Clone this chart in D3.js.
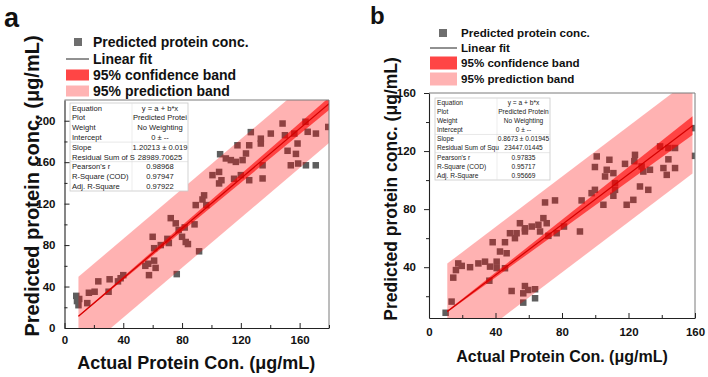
<!DOCTYPE html>
<html><head><meta charset="utf-8">
<script src="https://cdn.jsdelivr.net/npm/d3@7"></script>
<style>body{margin:0;background:#fff} text{font-family:"Liberation Sans",Arial,sans-serif}</style>
</head><body><svg id="c" width="708" height="377"></svg>
<script>
// ---------- Panel a data ----------
const actualA = [8,8.5,9.5,10,15.5,16.6,20.5,23,30,30.7,36.4,38.2,40,55,57,57.5,61,62,61,60,65.5,70,71,76.4,77.7,80,82.5,84,91.6,72.3,75.7,81.8,88.5,89.3,93.9,95,96.5,100.7,105.2,106.8,105.2,105.9,109.8,113.2,116.6,121.2,123.5,117.7,125.7,126.8,133.6,133.6,120,125.7,134.8,134.8,115.4,140.4,148.4,150,156.4,158.6,164,165.5,171.1,179.5,151.8,157.5,154,159,164.3,171];
const predictedA = [31,26,22,28,24,34,35,45,35,47,45,48,51,60,62,51,65,58,77,88,80,86,82,52,94.5,88,83,81,74,106,101,97,100,118.6,124,128,118.6,147.5,150.6,142.6,139.5,167.7,163.6,162,160.3,162,168.4,176.3,176.3,189,182.7,178,147.5,142.6,144.3,157,144,187.6,197.3,186,187.6,178,199,189.3,187.6,194,171,168,157,158.7,157,157];
const bandXA = [9.5, 180];
const fitYA = [11.4, 216.4];
const confLoA = [10.9, 210.4];
const confHiA = [11.9, 222.4];
const predLoA = [-26.6, 178.4];
const predHiA = [49.4, 254.4];
const xTicksA = [0,40,80,120,160];
const xMinorA = [20,60,100,140,180];
const yTicksA = [0,40,80,120,160,200];
const yMinorA = [20,60,100,140,180];
const statsA = ["y = a + b*x","Predicted Protei","No Weighting","0 \u00b1 --","1.20213 \u00b1 0.019","28989.70625","0.98968","0.97947","0.97922"];
const labelsA = ["Equation","Plot","Weight","Intercept","Slope","Residual Sum of S","Pearson's r","R-Square (COD)","Adj. R-Square"];

// ---------- Panel b data ----------
const actualB = [10,13.6,14.6,16.2,17.6,19.7,24.7,29.7,33.7,36.7,40.7,40.7,45.7,36.3,42.7,46.7,38.3,45.7,49.7,56.7,57.7,59.7,63.8,56.7,63.8,48.7,52.7,51.7,57.7,66.8,71.8,76.8,54.7,57.7,61.8,65.8,68.8,70.8,69.8,75.8,81.2,90.8,91.8,100.9,108.5,99.8,106.9,110.9,105.9,117.9,123.9,123.5,127.9,128.9,132.9,139,144,148,144,141,143,148,160,160,99.8,97.8,111.9,111.9,110.9,104.9,118.9,122.9,126.9,131.9];
const predictedB = [8.6,16.3,32.8,38,42.6,40.9,40,42.6,43.8,40.4,43.8,39.4,39.3,30.7,50.8,49.6,57.2,57.2,23.6,22,27,24.3,24.8,15.6,18.6,63.4,63.4,60,64.6,64.6,61.6,63.4,70.3,66.8,68,69.2,73.8,70.3,84.6,86,68,64.6,86,116.3,114,109,107.1,104.8,102.5,111.2,117.4,113,109.4,105.9,107.1,123.2,122.1,122.1,114.3,108.3,103.6,108.3,135.8,116.7,93.3,91,97.9,93.3,89.2,83,83,86.4,95.6,93.3];
const bandXB = [11, 158.5];
const fitYB = [9.5, 137.5];
const confLoB = [9.0, 131.0];
const confHiB = [10.0, 144.0];
const predLoB = [-23.5, 104.5];
const predHiB = [42.5, 170.5];
const xTicksB = [0,40,80,120,160];
const xMinorB = [20,60,100,140];
const yTicksB = [40,80,120,160];
const yMinorB = [20,60,100,140];
const statsB = ["y = a + b*x","Predicted Protein","No Weighting","0 \u00b1 --","0.8673 \u00b1 0.01945","23447.01445","0.97835","0.95717","0.95669"];
const labelsB = ["Equation","Plot","Weight","Intercept","Slope","Residual Sum of Squ","Pearson's r","R-Square (COD)","Adj. R-Square"];

const legendItems = ["Predicted protein conc.","Linear fit","95% confidence band","95% prediction band"];

const svg = d3.select("#c");

function panel(o){
  const x = d3.scaleLinear().domain(o.xd).range([o.L,o.R]);
  const y = d3.scaleLinear().domain(o.yd).range([o.B,o.T]);
  const g = svg.append("g");
  const cid = "clip"+o.id;
  g.append("clipPath").attr("id",cid).append("rect")
    .attr("x",o.L).attr("y",o.T).attr("width",o.R-o.L).attr("height",o.B-o.T);
  const pg = g.append("g").attr("clip-path","url(#"+cid+")");
  // points
  pg.selectAll("rect.pt").data(o.ax.map((v,i)=>[v,o.ay[i]])).enter().append("rect")
    .attr("x",d=>x(d[0])-o.ms/2).attr("y",d=>y(d[1])-o.ms/2)
    .attr("width",o.ms).attr("height",o.ms).attr("fill","#5e5e5e");
  const band = (lo,hi)=>d3.area().x((d,i)=>x(o.bx[i])).y0((d,i)=>y(lo[i])).y1((d,i)=>y(hi[i]))(o.bx);
  pg.append("path").attr("d",band(o.pl,o.ph)).attr("fill","#ff0000").attr("fill-opacity",0.3);
  pg.append("path").attr("d",band(o.cl,o.ch)).attr("fill","#ff0000").attr("fill-opacity",0.62);
  pg.append("path").attr("d",d3.line().x((d,i)=>x(o.bx[i])).y((d,i)=>y(o.fy[i]))(o.bx))
    .attr("stroke","#d40000").attr("stroke-width",1.2).attr("fill","none");
  // table
  const tg = g.append("g");
  const rh = (o.tb.b-o.tb.t)/o.labels.length;
  tg.append("rect").attr("x",o.tb.l).attr("y",o.tb.t).attr("width",o.tb.r-o.tb.l).attr("height",o.tb.b-o.tb.t)
    .attr("fill","#fff").attr("stroke","#c8c8c8").attr("stroke-width",0.8);
  tg.append("line").attr("x1",o.tb.m).attr("x2",o.tb.m).attr("y1",o.tb.t).attr("y2",o.tb.b).attr("stroke","#e0e0e0").attr("stroke-width",0.6);
  [4,6].forEach(k=>tg.append("line").attr("x1",o.tb.l).attr("x2",o.tb.r)
    .attr("y1",o.tb.t+k*rh).attr("y2",o.tb.t+k*rh).attr("stroke","#d8d8d8").attr("stroke-width",0.6));
  o.labels.forEach((s,i)=>{
    tg.append("text").attr("x",o.tb.l+2).attr("y",o.tb.t+(i+0.5)*rh).attr("dy","0.36em")
      .attr("font-size",o.tf).attr("fill","#222").text(s);
    tg.append("text").attr("x",(o.tb.m+o.tb.r)/2).attr("y",o.tb.t+(i+0.5)*rh).attr("dy","0.36em")
      .attr("text-anchor","middle").attr("font-size",o.tf).attr("fill","#222").text(o.stats[i]);
  });
  // frame top/right
  g.append("path").attr("d",`M${o.L},${o.T}H${o.R}V${o.B}`).attr("fill","none").attr("stroke","#7a7a7a").attr("stroke-width",1);
  // axes
  const xa = g.append("g").attr("transform",`translate(0,${o.B})`)
    .call(d3.axisBottom(x).tickValues(o.xt).tickFormat(d3.format("d")).tickSizeInner(-5).tickSizeOuter(0).tickPadding(o.xpad));
  g.append("g").attr("transform",`translate(0,${o.B})`)
    .call(d3.axisBottom(x).tickValues(o.xm).tickFormat("").tickSizeInner(-3).tickSizeOuter(0))
    .select(".domain").remove();
  const ya = g.append("g").attr("transform",`translate(${o.L},0)`)
    .call(d3.axisLeft(y).tickValues(o.yt).tickFormat(d3.format("d")).tickSizeInner(o.yin?-5:5).tickSizeOuter(0).tickPadding(o.ypad));
  g.append("g").attr("transform",`translate(${o.L},0)`)
    .call(d3.axisLeft(y).tickValues(o.ym).tickFormat("").tickSizeInner(o.yin?-3:3).tickSizeOuter(0))
    .select(".domain").remove();
  g.selectAll(".tick line").attr("stroke","#222");
  g.selectAll(".domain").attr("stroke","#222").attr("stroke-width",1.1);
  [xa,ya].forEach(a=>a.selectAll("text").attr("font-size",o.tkf).attr("font-weight","bold").attr("fill","#111")
     .style("font-family",'"Liberation Sans",Arial,sans-serif'));
  // titles
  g.append("text").attr("x",(o.L+o.R)/2+o.xtdx).attr("y",o.xty).attr("text-anchor","middle")
    .attr("font-size",o.xtf).attr("font-weight","bold").attr("fill","#111").text("Actual Protein Con. (\u03bcg/mL)");
  g.append("text").attr("transform",`translate(${o.ytx},${o.yty}) rotate(-90)`).attr("text-anchor","middle")
    .attr("font-size",o.ytf).attr("font-weight","bold").attr("fill","#111").text("Predicted protein conc. (\u03bcg/mL)");
  g.append("text").attr("x",o.pl0[0]).attr("y",o.pl0[1]).attr("font-size",o.plf).attr("font-weight","bold").attr("fill","#111").text(o.id);
  // legend
  const lg = g.append("g");
  const lr = o.lg;
  lg.append("rect").attr("x",lr.mx-lr.ms/2).attr("y",lr.rows[0]-lr.ms/2).attr("width",lr.ms).attr("height",lr.ms).attr("fill","#6e6e6e");
  lg.append("line").attr("x1",lr.sx).attr("x2",lr.sx+lr.sw).attr("y1",lr.rows[1]).attr("y2",lr.rows[1]).attr("stroke","#222").attr("stroke-width",1);
  lg.append("rect").attr("x",lr.sx).attr("y",lr.rows[2]-lr.sh/2).attr("width",lr.sw).attr("height",lr.sh).attr("fill","#ff4545");
  lg.append("rect").attr("x",lr.sx).attr("y",lr.rows[3]-lr.sh/2).attr("width",lr.sw).attr("height",lr.sh).attr("fill","#ffb3b3");
  legendItems.forEach((s,i)=>lg.append("text").attr("x",lr.tx).attr("y",lr.rows[i]).attr("dy","0.36em")
    .attr("font-size",lr.f).attr("font-weight","bold").attr("fill","#111").text(s));
}

panel({id:"a",xd:[0,180],yd:[0,220],L:64.5,R:329,T:100,B:328,
  ax:actualA,ay:predictedA,ms:6.5,bx:bandXA,fy:fitYA,cl:confLoA,ch:confHiA,pl:predLoA,ph:predHiA,
  xt:xTicksA,xm:xMinorA,yt:yTicksA,ym:yMinorA,yin:true,xpad:8,ypad:9,tkf:11.5,
  labels:labelsA,stats:statsA,tb:{l:70,r:188,t:103,b:191,m:132},tf:7.6,
  xtdx:-0.5,xty:369,xtf:18,ytx:39,yty:186,ytf:20,pl0:[4,27],plf:27,
  lg:{mx:78,ms:8,sx:66,sw:23,sh:11,tx:93,f:14,rows:[42,59,75,91]}});

panel({id:"b",xd:[0,160],yd:[5,160],L:429,R:695,T:93,B:318,
  ax:actualB,ay:predictedB,ms:6.5,bx:bandXB,fy:fitYB,cl:confLoB,ch:confHiB,pl:predLoB,ph:predHiB,
  xt:xTicksB,xm:xMinorB,yt:yTicksB,ym:yMinorB,yin:false,xpad:10,ypad:8,tkf:11.5,
  labels:labelsB,stats:statsB,tb:{l:435,r:550,t:98,b:180,m:497},tf:6.6,
  xtdx:0,xty:362,xtf:16,ytx:397,yty:189,ytf:17.5,pl0:[370,24],plf:24,
  lg:{mx:443,ms:8,sx:430,sw:27,sh:13,tx:461,f:11.6,rows:[33,48,63,79]}});
</script></body></html>
